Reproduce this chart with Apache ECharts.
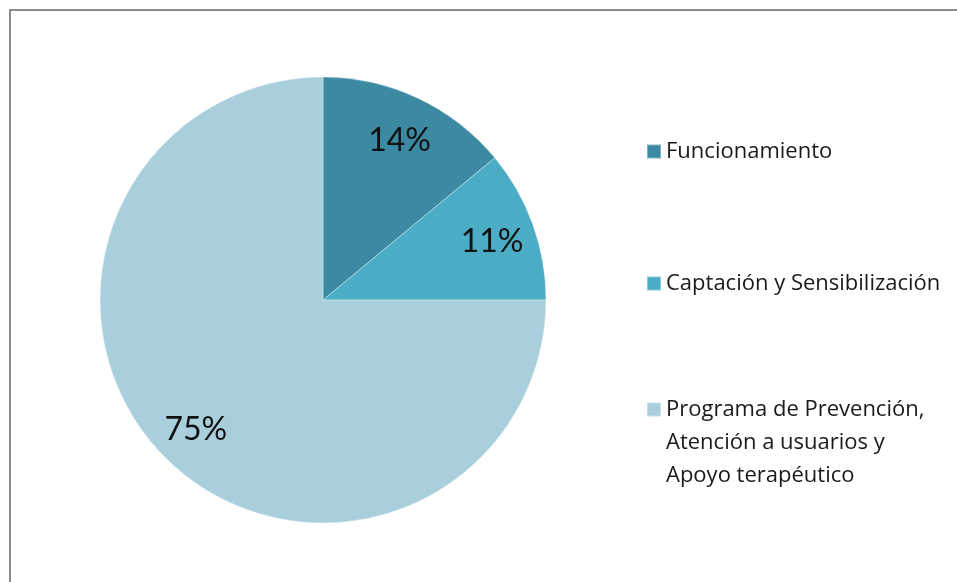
<!DOCTYPE html>
<html>
<head>
<meta charset="utf-8">
<script src="https://cdn.jsdelivr.net/npm/echarts@6/dist/echarts.min.js"></script>
<style>
  html, body { margin: 0; padding: 0; background: #fff; }
  #chart { width: 957px; height: 582px; }
</style>
</head>
<body>
<div id="chart"></div>
<script>
// datos del gráfico
var categorias = ['Funcionamiento', 'Captación y Sensibilización', 'Programa de Prevención,\nAtención a usuarios y\nApoyo terapéutico'];
var porcentajes = [14, 11, 75];
var colores = ['#3c8aa2', '#4bacc6', '#a9cfdc'];

var cx = 323, cy = 300, radio = 223;
var escalaEtiqueta = 0.785 / 0.5; // Excel pone las etiquetas más afuera que ECharts

function leyenda(i, top, lineasVacias) {
  return {
    orient: 'vertical',
    left: 641,
    top: top,
    icon: 'rect',
    itemWidth: 14,
    itemHeight: 14,
    selectedMode: false,
    data: [categorias[i]],
    // lineas vacias arriba para que el cuadro quede a la altura de la primera linea
    formatter: function (name) {
      return lineasVacias ? '\n\n' + name : name;
    },
    textStyle: {
      fontFamily: 'Open Sans',
      fontSize: 22,
      color: '#1a1a1a',
      lineHeight: 33
    }
  };
}

var datos = categorias.map(function (c, i) {
  return { name: c, value: porcentajes[i], itemStyle: { color: colores[i] } };
});

var myChart = echarts.init(document.getElementById('chart'));
var option = {
  animation: false,
  graphic: [{
    type: 'rect',
    shape: { x: 10, y: 10, width: 1000, height: 700 },
    style: { fill: 'none', stroke: '#8c8c8c', lineWidth: 2 },
    silent: true
  }],
  legend: [
    leyenda(0, 130),
    leyenda(1, 262),
    leyenda(2, 322, true)
  ],
  series: [{
    type: 'pie',
    center: [cx, cy],
    radius: radio,
    startAngle: 90,
    clockwise: true,
    avoidLabelOverlap: false,
    itemStyle: { borderColor: 'rgba(255,255,255,0.35)', borderWidth: 1 },
    label: {
      show: true,
      position: 'inside',
      formatter: '{d}%',
      fontFamily: 'Lato',
      fontSize: 32,
      color: '#111'
    },
    labelLine: { show: false },
    labelLayout: function (params) {
      var r = params.labelRect;
      var lx = r.x + r.width / 2, ly = r.y + r.height / 2;
      return {
        x: cx + (lx - cx) * escalaEtiqueta,
        y: cy + (ly - cy) * escalaEtiqueta + 3,
        align: 'center',
        verticalAlign: 'middle'
      };
    },
    emphasis: { disabled: true },
    data: datos
  }]
};
myChart.setOption(option);
</script>
</body>
</html>
